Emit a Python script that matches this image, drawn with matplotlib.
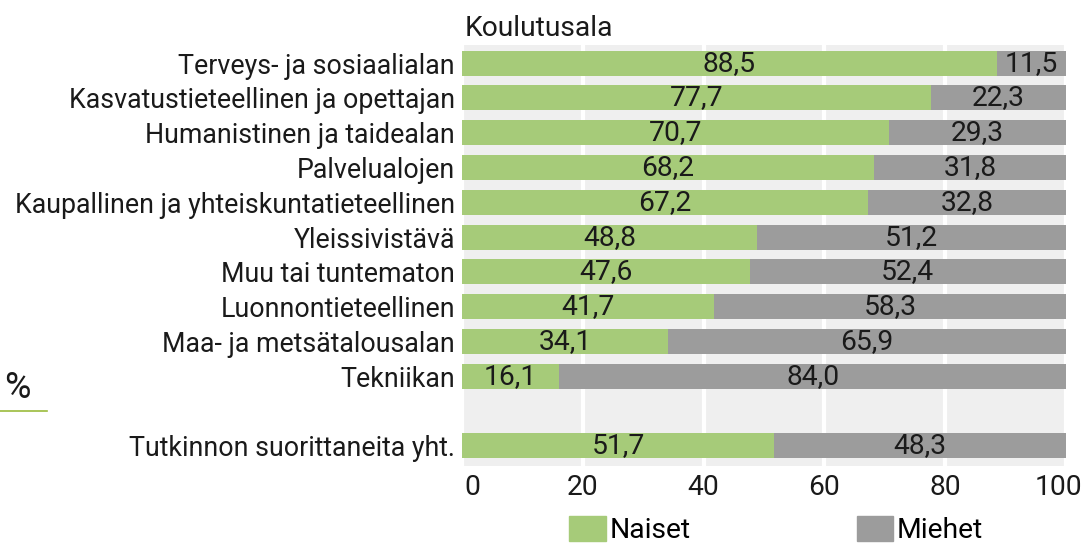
import matplotlib.pyplot as plt
import matplotlib.transforms as mtransforms
from matplotlib.patches import Patch

# data
categories = ['Terveys- ja sosiaalialan',
              'Kasvatustieteellinen ja opettajan',
              'Humanistinen ja taidealan',
              'Palvelualojen',
              'Kaupallinen ja yhteiskuntatieteellinen',
              'Yleissivistävä',
              'Muu tai tuntematon',
              'Luonnontieteellinen',
              'Maa- ja metsätalousalan',
              'Tekniikan',
              'Tutkinnon suorittaneita yht.']
naiset = [88.5, 77.7, 70.7, 68.2, 67.2, 48.8, 47.6, 41.7, 34.1, 16.1, 51.7]
miehet = [11.5, 22.3, 29.3, 31.8, 32.8, 51.2, 52.4, 58.3, 65.9, 84.0, 48.3]
xticks = [0, 20, 40, 60, 80, 100]

green = '#a6cb79'
grey = '#9c9c9c'
plt.rcParams['font.family'] = ['Roboto', 'DejaVu Sans']
fs = 19.3     # category labels
fn = 20.3     # numbers, ticks, title, legend
txt = '#1a1a1a'

fig = plt.figure(figsize=(10.86, 5.43), dpi=100)
ax = fig.add_axes([462 / 1086, 1 - 466 / 543, 604 / 1086, 421 / 543])
ax.set_facecolor('#efefef')

# the total row is separated by one empty slot
ypos = list(range(len(categories) - 1)) + [len(categories)]

ax.barh(ypos, naiset, height=0.72, color=green, zorder=2)
ax.barh(ypos, miehet, left=naiset, height=0.72, color=grey, zorder=2)

for y, n, m in zip(ypos, naiset, miehet):
    ax.text(n / 2, y, f'{n:.1f}'.replace('.', ','), ha='center', va='center',
            fontsize=fn, color=txt, zorder=3)
    ax.text(n + m / 2, y, f'{m:.1f}'.replace('.', ','), ha='center', va='center',
            fontsize=fn, color=txt, zorder=3)

ax.set_xlim(0, 100)
ax.set_ylim(11.58, -0.52)
ax.set_xticks(xticks)
ax.set_xticklabels([str(t) for t in xticks], fontsize=fn, color=txt)
ax.set_yticks(ypos)
ax.set_yticklabels(categories, fontsize=fs, color=txt)
ax.tick_params(length=0, pad=5)
ax.tick_params(axis='x', pad=6)
ax.grid(axis='x', color='white', linewidth=3, zorder=1)
for s in ax.spines.values():
    s.set_visible(False)

# nudge the end labels inwards a little, as in the original
labels = ax.get_xticklabels()
for lab, dx in [(labels[0], 10), (labels[-1], -8)]:
    lab.set_transform(lab.get_transform() +
                      mtransforms.ScaledTranslation(dx / 100, 0, fig.dpi_scale_trans))

ax.text(0.5, -0.62, 'Koulutusala', fontsize=fn, va='bottom', color=txt)

fig.text(4 / 1086, 1 - 388 / 543, '%', fontsize=26, va='center', color=txt)
fig.add_artist(plt.Line2D([0, 47 / 1086], [1 - 411 / 543] * 2,
                          color='#9bbb3c', linewidth=1.2))

handles = [Patch(color=green, label='Naiset'), Patch(color=grey, label='Miehet')]
ax.legend(handles=handles, loc='upper center', bbox_to_anchor=(0.52, -0.058),
          ncol=2, frameon=False, handlelength=1.3, handleheight=1.0,
          handletextpad=0.12, columnspacing=5.9,
          prop={'size': fn})

fig.savefig('out.png', dpi=100)
